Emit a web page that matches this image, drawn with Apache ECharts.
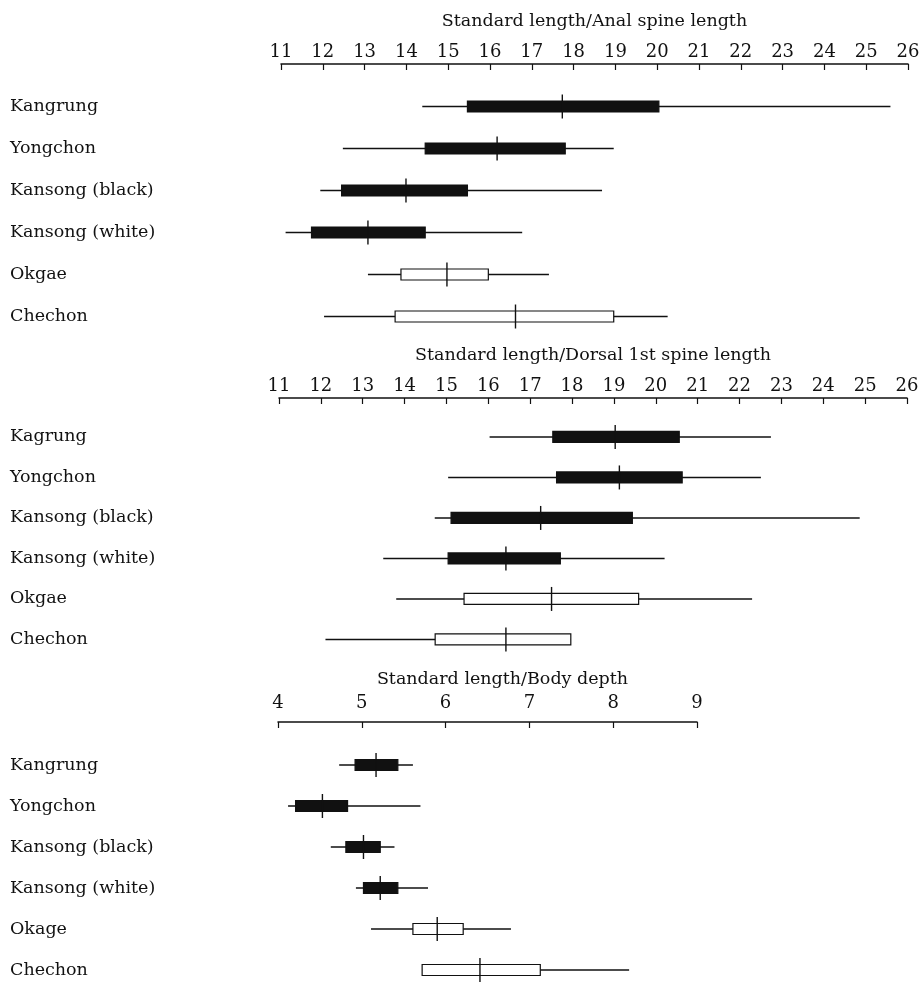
<!DOCTYPE html>
<html>
<head>
<meta charset="utf-8">
<script src="https://cdn.jsdelivr.net/npm/echarts@6/dist/echarts.min.js"></script>
<style>
  html, body { margin: 0; padding: 0; background: #fff; }
  #chart { width: 920px; height: 983px; }
</style>
</head>
<body>
<div id="chart"></div>
<script>
// row labels of each panel (spelled as in the figure)
const analCats = ['Kangrung', 'Yongchon', 'Kansong (black)', 'Kansong (white)', 'Okgae', 'Chechon'];
const dorsalCats = ['Kagrung', 'Yongchon', 'Kansong (black)', 'Kansong (white)', 'Okgae', 'Chechon'];
const depthCats = ['Kangrung', 'Yongchon', 'Kansong (black)', 'Kansong (white)', 'Okage', 'Chechon'];

// filled box = 1, open box = 0
const filledFlags = [1, 1, 1, 1, 0, 0];

// [min, box low, mean, box high, max] per row
const analRatio = [
  [14.38, 15.46, 17.73, 20.04, 25.58],
  [12.48, 14.45, 16.17, 17.80, 18.96],
  [11.94, 12.45, 13.99, 15.46, 18.68],
  [11.11, 11.73, 13.08, 14.45, 16.77],
  [13.08, 13.87, 14.97, 15.96, 17.41],
  [12.03, 13.73, 16.61, 18.96, 20.25]
];
const dorsalRatio = [
  [16.03, 17.54, 19.03, 20.56, 22.75],
  [15.04, 17.63, 19.13, 20.63, 22.51],
  [14.72, 15.11, 17.25, 19.44, 24.87],
  [13.49, 15.04, 16.42, 17.72, 20.21],
  [13.80, 15.42, 17.51, 19.59, 22.30],
  [12.11, 14.73, 16.42, 17.97, 17.97]
];
const depthRatio = [
  [4.73, 4.92, 5.17, 5.43, 5.61],
  [4.12, 4.21, 4.53, 4.83, 5.70],
  [4.63, 4.81, 5.02, 5.22, 5.39],
  [4.93, 5.02, 5.22, 5.43, 5.79],
  [5.11, 5.61, 5.90, 6.21, 6.78],
  [5.72, 5.72, 6.41, 7.13, 8.19]
];

const titles = [
  'Standard length/Anal spine length',
  'Standard length/Dorsal 1st spine length',
  'Standard length/Body depth'
];

const FONT = 'DejaVu Serif';

function rows(values) {
  return values.map((v, i) => [i].concat(v, filledFlags[i]));
}

// range line + box + mean tick, all placed through the axes
function renderHubbs(params, api) {
  const cat = api.value(0);
  const lo = api.coord([api.value(1), cat]);
  const b1 = api.coord([api.value(2), cat]);
  const m = api.coord([api.value(3), cat]);
  const b2 = api.coord([api.value(4), cat]);
  const hi = api.coord([api.value(5), cat]);
  const filled = api.value(6) === 1;
  const y = lo[1];
  return {
    type: 'group',
    children: [
      { type: 'line', shape: { x1: lo[0], y1: y, x2: hi[0], y2: y }, style: { stroke: '#111', lineWidth: 1.5 } },
      { type: 'rect', shape: { x: b1[0], y: y - 5.5, width: b2[0] - b1[0], height: 11 },
        style: { fill: filled ? '#111' : '#fff', stroke: '#111', lineWidth: 1.2 } },
      { type: 'line', shape: { x1: m[0], y1: y - 12, x2: m[0], y2: y + 12 }, style: { stroke: '#111', lineWidth: 1.4 } }
    ]
  };
}

function xAxisFor(idx, min, max, offset, labelMargin, namePad) {
  return {
    gridIndex: idx,
    type: 'value',
    position: 'top',
    min: min,
    max: max,
    interval: 1,
    offset: offset,
    name: titles[idx],
    nameLocation: 'middle',
    nameGap: 34,
    nameTextStyle: { fontFamily: FONT, fontSize: 17.5, color: '#111', padding: namePad },
    axisLine: { show: true, lineStyle: { color: '#111', width: 1.5 } },
    axisTick: { show: true, inside: true, length: 6, lineStyle: { color: '#111', width: 1.2 } },
    axisLabel: { fontFamily: FONT, fontSize: 18, color: '#111', margin: labelMargin },
    splitLine: { show: false }
  };
}

function yAxisFor(idx, cats, left) {
  return {
    gridIndex: idx,
    type: 'category',
    inverse: true,
    data: cats,
    axisLine: { show: false },
    axisTick: { show: false },
    axisLabel: { align: 'left', margin: left - 10, fontFamily: FONT, fontSize: 17.5, color: '#111' }
  };
}

const chart = echarts.init(document.getElementById('chart'), null, { renderer: 'canvas' });

const option = {
  backgroundColor: '#fff',
  animation: false,
  grid: [
    { left: 281, width: 627, top: 85.5, height: 252, outerBoundsMode: 'none' },
    { left: 279, width: 628, top: 416.7, height: 243, outerBoundsMode: 'none' },
    { left: 278, width: 419, top: 744.5, height: 246, outerBoundsMode: 'none' }
  ],
  xAxis: [
    xAxisFor(0, 11, 26, 21.5, 3, [0, 0, 0, 0]),
    xAxisFor(1, 11, 26, 18.7, 3, [0, 0, 0, 0]),
    xAxisFor(2, 4, 9, 22.5, 10, [0, 0, 0, 30])
  ],
  yAxis: [
    yAxisFor(0, analCats, 281),
    yAxisFor(1, dorsalCats, 279),
    yAxisFor(2, depthCats, 278)
  ],
  series: [
    { type: 'custom', xAxisIndex: 0, yAxisIndex: 0, renderItem: renderHubbs, data: rows(analRatio),
      encode: { x: [1, 2, 3, 4, 5], y: 0 } },
    { type: 'custom', xAxisIndex: 1, yAxisIndex: 1, renderItem: renderHubbs, data: rows(dorsalRatio),
      encode: { x: [1, 2, 3, 4, 5], y: 0 } },
    { type: 'custom', xAxisIndex: 2, yAxisIndex: 2, renderItem: renderHubbs, data: rows(depthRatio),
      encode: { x: [1, 2, 3, 4, 5], y: 0 } }
  ]
};

chart.setOption(option);
</script>
</body>
</html>
